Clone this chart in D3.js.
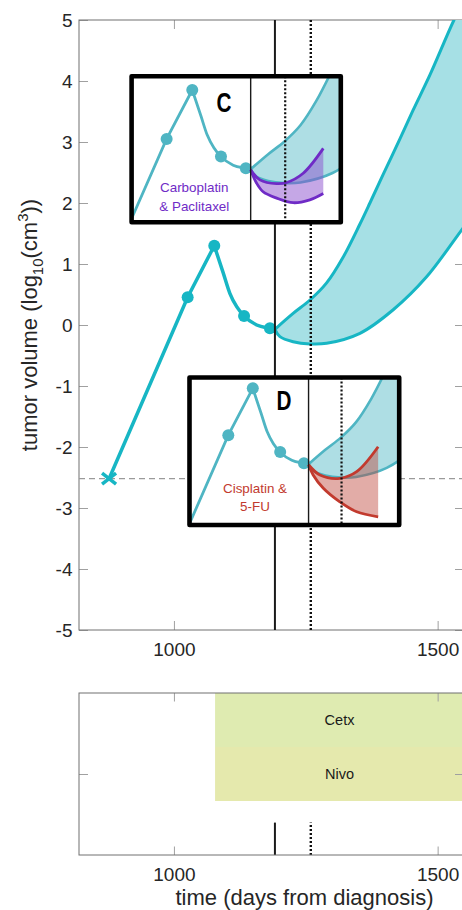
<!DOCTYPE html>
<html><head><meta charset="utf-8">
<script src="https://cdn.jsdelivr.net/npm/d3@7"></script>
<style>
body{margin:0;background:#fff;}
svg{display:block;font-family:"Liberation Sans",Arial,Helvetica,sans-serif;}
</style></head><body>
<svg id="chart" width="462" height="910"></svg>
<script>
// ---------------- data ----------------
const xTicks = [1000, 1500];
const yTicks = [-5, -4, -3, -2, -1, 0, 1, 2, 3, 4, 5];

const detectDay = 877, detectVal = -2.52;          // detection (x marker) & dashed threshold
const growthDays = [877, 1026, 1076.5];
const growthVals = [-2.52, 0.454, 1.30];
const decayDays = [1076.5, 1093.6, 1106, 1119, 1133, 1157, 1182, 1191.5];
const decayVals = [1.30, 0.85, 0.52, 0.30, 0.148, 0.0, -0.054, -0.07];
const markerDays = [1026, 1076.5, 1133, 1182];
const markerVals = [0.454, 1.30, 0.148, -0.054];

const upperDays = [1191.5, 1226, 1258, 1289.5, 1321, 1352.7, 1371.6, 1396.3, 1428.5, 1453.7, 1485.4, 1531, 1552];
const upperVals = [-0.07, 0.19, 0.41, 0.69, 1.115, 1.656, 2.0, 2.46, 3.05, 3.525, 4.10, 5.0, 5.35];
const lowerDays = [1191.5, 1201, 1226, 1258, 1289.5, 1352.7, 1415.8, 1479.1, 1542.3, 1552];
const lowerVals = [-0.07, -0.19, -0.274, -0.311, -0.30, -0.136, 0.25, 0.79, 1.52, 1.63];

const carboUpDays = [1191.5, 1209.8, 1242.7, 1262.4, 1295, 1334.5];
const carboUpVals = [-0.08, -0.255, -0.32, -0.30, -0.14, 0.29];
const carboLoDays = [1191.5, 1203, 1216, 1242.7, 1275.4, 1308, 1334.5];
const carboLoVals = [-0.08, -0.31, -0.46, -0.57, -0.65, -0.60, -0.49];

const cisUpDays = [1191.5, 1215, 1256, 1290.7, 1335];
const cisUpVals = [-0.08, -0.265, -0.325, -0.205, 0.245];
const cisLoDays = [1191.5, 1201, 1222, 1256, 1290.7, 1335];
const cisLoVals = [-0.08, -0.265, -0.505, -0.75, -0.93, -1.02];

const solidDay = 1191.5, dottedDay = 1259.5;
const therapies = ["Cetx", "Nivo"];
const therapyStart = [1078, 1078];
const therapyEnd = [1550, 1550];

// ---------------- layout ----------------
const svg = d3.select("#chart");
const M = {l: 79, r: 464, t: 20, b: 630};
const B = {t: 693, b: 855};
const x = d3.scaleLinear().domain([820, 1550]).range([M.l, M.r]);
const y = d3.scaleLinear().domain([-5, 5]).range([M.b, M.t]);
const fmt = d => String(d);

const TEAL = "#17b6c4", TEAL_FILL = "#a6e0e5";
const TEAL2 = "#4fb5c3", TEAL2_FILL = "rgba(120,200,210,0.6)";
const PURPLE = "#6f2bc6", PURPLE_FILL = "rgba(140,80,205,0.5)";
const RED = "#c23a2e", RED_FILL = "rgba(190,70,60,0.45)";
const AX = "#707070", TK = "#a0a0a0", TXT = "#262626";

const zip = (a, b) => a.map((d, i) => [d, b[i]]);
const growth = zip(growthDays, growthVals);
const decay = zip(decayDays, decayVals);
const markers = zip(markerDays, markerVals);
const upper = zip(upperDays, upperVals);
const lower = zip(lowerDays, lowerVals);
const carboUp = zip(carboUpDays, carboUpVals), carboLo = zip(carboLoDays, carboLoVals);
const cisUp = zip(cisUpDays, cisUpVals), cisLo = zip(cisLoDays, cisLoVals);

const defs = svg.append("defs");
defs.append("clipPath").attr("id", "mainclip").append("rect")
  .attr("x", M.l).attr("y", M.t).attr("width", M.r - M.l).attr("height", M.b - M.t);
defs.append("clipPath").attr("id", "botclip").append("rect")
  .attr("x", M.l).attr("y", B.t).attr("width", M.r - M.l).attr("height", B.b - B.t);

function lineGen(xs, ys, curve) {
  return d3.line().x(d => xs(d[0])).y(d => ys(d[1])).curve(curve || d3.curveCatmullRom.alpha(0.5));
}
function bandPath(xs, ys, up, lo) {
  const lg = lineGen(xs, ys);
  const a = lg(up);
  const b = lg(lo.slice().reverse());
  return a + "L" + b.slice(1) + "Z";
}

// ---------------- main axes ----------------
const main = svg.append("g");
main.append("g").attr("transform", `translate(${M.l},0)`)
  .call(d3.axisLeft(y).tickValues(yTicks).tickSize(-9).tickSizeOuter(0).tickPadding(6.5).tickFormat(fmt));
main.append("g").attr("transform", `translate(${M.r},0)`)
  .call(d3.axisRight(y).tickValues(yTicks).tickSize(-9).tickSizeOuter(0).tickFormat(""));
main.append("g").attr("transform", `translate(0,${M.b})`)
  .call(d3.axisBottom(x).tickValues(xTicks).tickSize(-9).tickSizeOuter(0).tickPadding(13).tickFormat(fmt));
main.append("g").attr("transform", `translate(0,${M.t})`)
  .call(d3.axisTop(x).tickValues(xTicks).tickSize(-9).tickSizeOuter(0).tickFormat(""));
main.selectAll(".domain").remove();
main.selectAll(".tick line").attr("stroke", TK).attr("stroke-width", 1);
main.selectAll(".tick text").attr("fill", TXT).style("font-size", "19px").style("font-family", "Liberation Sans, Arial, sans-serif");
main.append("rect").attr("x", M.l).attr("y", M.t).attr("width", M.r - M.l).attr("height", M.b - M.t)
  .attr("fill", "none").attr("stroke", AX).attr("stroke-width", 1);

// y label
const yl = svg.append("text").attr("transform", `translate(37,${(M.t + M.b) / 2}) rotate(-90)`)
  .attr("text-anchor", "middle").attr("fill", TXT).style("font-size", "22px");
yl.append("tspan").text("tumor volume (log");
yl.append("tspan").text("10").style("font-size", "15px").attr("dy", "6");
yl.append("tspan").text("(cm").attr("dy", "-6");
yl.append("tspan").text("3").style("font-size", "15px").attr("dy", "-9");
yl.append("tspan").text("))").attr("dy", "9");

// ---------------- main plot content ----------------
const pc = svg.append("g").attr("clip-path", "url(#mainclip)");
pc.append("line").attr("x1", M.l).attr("x2", M.r).attr("y1", y(detectVal)).attr("y2", y(detectVal))
  .attr("stroke", "#9a9a9a").attr("stroke-width", 1.3).attr("stroke-dasharray", "6,4");
pc.append("path").attr("d", bandPath(x, y, upper, lower)).attr("fill", TEAL_FILL).attr("stroke", "none");
pc.append("path").attr("d", lineGen(x, y)(upper)).attr("fill", "none").attr("stroke", TEAL).attr("stroke-width", 3);
pc.append("path").attr("d", lineGen(x, y)(lower)).attr("fill", "none").attr("stroke", TEAL).attr("stroke-width", 3);
pc.append("path").attr("d", lineGen(x, y, d3.curveLinear)(growth)).attr("fill", "none").attr("stroke", TEAL).attr("stroke-width", 3.5);
pc.append("path").attr("d", lineGen(x, y, d3.curveMonotoneX)(decay)).attr("fill", "none").attr("stroke", TEAL).attr("stroke-width", 3.5);
pc.selectAll("circle.m").data(markers).join("circle").attr("class", "m")
  .attr("cx", d => x(d[0])).attr("cy", d => y(d[1])).attr("r", 6).attr("fill", TEAL);
{
  const cx = x(detectDay), cy = y(detectVal), p = d3.path();
  p.moveTo(cx - 7, cy - 5.5); p.lineTo(cx + 7, cy + 5.5);
  p.moveTo(cx - 7, cy + 5.5); p.lineTo(cx + 7, cy - 5.5);
  pc.append("path").attr("d", p.toString()).attr("stroke", TEAL).attr("stroke-width", 3.5).attr("fill", "none");
}
pc.append("line").attr("x1", x(solidDay)).attr("x2", x(solidDay)).attr("y1", M.t).attr("y2", M.b)
  .attr("stroke", "#1a1a1a").attr("stroke-width", 2);
pc.append("line").attr("x1", x(dottedDay)).attr("x2", x(dottedDay)).attr("y1", M.t).attr("y2", M.b)
  .attr("stroke", "#111").attr("stroke-width", 2.4).attr("stroke-dasharray", "2,2");

// ---------------- insets ----------------
function inset(id, box, dom, vdom, up, lo, col, fill, label, labelPos, lines, linesPos) {
  const xs = d3.scaleLinear().domain(dom).range([box.x0, box.x1]);
  const ys = d3.scaleLinear().domain(vdom).range([box.y1, box.y0]);
  defs.append("clipPath").attr("id", id).append("rect")
    .attr("x", box.x0).attr("y", box.y0).attr("width", box.x1 - box.x0).attr("height", box.y1 - box.y0);
  const g = svg.append("g");
  g.append("rect").attr("x", box.x0).attr("y", box.y0).attr("width", box.x1 - box.x0).attr("height", box.y1 - box.y0).attr("fill", "#fff");
  const c = g.append("g").attr("clip-path", `url(#${id})`);
  c.append("path").attr("d", bandPath(xs, ys, upper, lower)).attr("fill", TEAL2_FILL);
  c.append("path").attr("d", lineGen(xs, ys)(upper)).attr("fill", "none").attr("stroke", TEAL2).attr("stroke-width", 2.6);
  c.append("path").attr("d", lineGen(xs, ys)(lower)).attr("fill", "none").attr("stroke", TEAL2).attr("stroke-width", 2.6);
  c.append("path").attr("d", lineGen(xs, ys, d3.curveLinear)(growth)).attr("fill", "none").attr("stroke", TEAL2).attr("stroke-width", 2.8);
  c.append("path").attr("d", lineGen(xs, ys, d3.curveMonotoneX)(decay)).attr("fill", "none").attr("stroke", TEAL2).attr("stroke-width", 2.8);
  c.selectAll("circle").data(markers).join("circle")
    .attr("cx", d => xs(d[0])).attr("cy", d => ys(d[1])).attr("r", 6).attr("fill", TEAL2);
  c.append("path").attr("d", bandPath(xs, ys, up, lo)).attr("fill", fill);
  c.append("path").attr("d", lineGen(xs, ys)(up)).attr("fill", "none").attr("stroke", col).attr("stroke-width", 2.8);
  c.append("path").attr("d", lineGen(xs, ys)(lo)).attr("fill", "none").attr("stroke", col).attr("stroke-width", 2.8);
  c.append("line").attr("x1", xs(solidDay)).attr("x2", xs(solidDay)).attr("y1", box.y0).attr("y2", box.y1)
    .attr("stroke", "#1a1a1a").attr("stroke-width", 1.4);
  c.append("line").attr("x1", xs(dottedDay)).attr("x2", xs(dottedDay)).attr("y1", box.y0).attr("y2", box.y1)
    .attr("stroke", "#111").attr("stroke-width", 2.2).attr("stroke-dasharray", "2,2");
  g.append("text").attr("transform", `translate(${labelPos[0]},${labelPos[1]}) scale(0.74,1)`)
    .attr("text-anchor", "middle")
    .style("font-family", "'Liberation Sans',Arial,sans-serif")
    .style("font-weight", "bold").style("font-size", "28px").attr("fill", "#000").text(label);
  lines.forEach((t, i) => {
    g.append("text").attr("x", linesPos[0]).attr("y", linesPos[1] + i * 18.8).attr("text-anchor", "middle")
      .style("font-size", "13.4px").attr("fill", col).text(t);
  });
  g.append("rect").attr("x", box.x0).attr("y", box.y0).attr("width", box.x1 - box.x0).attr("height", box.y1 - box.y0)
    .attr("fill", "none").attr("stroke", "#000").attr("stroke-width", 4.6).attr("stroke-linejoin", "round");
}
inset("clipC", {x0: 131.6, x1: 340.8, y0: 76.2, y1: 222.2}, [957, 1369], [-0.987, 1.539],
  carboUp, carboLo, PURPLE, PURPLE_FILL, "C", [224, 111.7], ["Carboplatin", "& Paclitaxel"], [194.3, 192.3]);
inset("clipD", {x0: 189.5, x1: 399.2, y0: 377.5, y1: 525}, [946, 1378.4], [-1.168, 1.495],
  cisUp, cisLo, RED, RED_FILL, "D", [284, 410], ["Cisplatin &", "5-FU"], [255, 492.5]);

// ---------------- bottom therapy panel ----------------
const yb = d3.scaleLinear().domain([0, 3]).range([B.b, B.t]);
const rowTop = {Cetx: 3, Nivo: 2};
const barColor = {Cetx: "#dfebb1", Nivo: "#e5e9ad"};
const bp = svg.append("g").attr("clip-path", "url(#botclip)");
therapies.forEach((t, i) => {
  bp.append("rect").attr("x", x(therapyStart[i])).attr("width", x(therapyEnd[i]) - x(therapyStart[i]))
    .attr("y", yb(rowTop[t])).attr("height", yb(rowTop[t] - 1) - yb(rowTop[t])).attr("fill", barColor[t]);
  bp.append("text").attr("x", (x(therapyStart[i]) + x(therapyEnd[i])) / 2).attr("y", yb(rowTop[t] - 0.5) + 5)
    .attr("text-anchor", "middle").style("font-size", "14.5px").attr("fill", "#1a1a1a").text(t);
});
bp.append("line").attr("x1", x(solidDay)).attr("x2", x(solidDay)).attr("y1", yb(0)).attr("y2", yb(0.6))
  .attr("stroke", "#1a1a1a").attr("stroke-width", 2);
bp.append("line").attr("x1", x(dottedDay)).attr("x2", x(dottedDay)).attr("y1", yb(0)).attr("y2", yb(0.6))
  .attr("stroke", "#111").attr("stroke-width", 2.4).attr("stroke-dasharray", "2,2");

const bot = svg.append("g");
bot.append("g").attr("transform", `translate(0,${B.b})`)
  .call(d3.axisBottom(x).tickValues(xTicks).tickSize(-8.5).tickSizeOuter(0).tickPadding(13).tickFormat(fmt));
bot.append("g").attr("transform", `translate(0,${B.t})`)
  .call(d3.axisTop(x).tickValues(xTicks).tickSize(-8.5).tickSizeOuter(0).tickFormat(""));
bot.append("g").attr("transform", `translate(${M.l},0)`)
  .call(d3.axisLeft(yb).tickValues([1.5]).tickSize(-9).tickSizeOuter(0).tickFormat(""));
bot.append("g").attr("transform", `translate(${M.r},0)`)
  .call(d3.axisRight(yb).tickValues([1.5]).tickSize(-9).tickSizeOuter(0).tickFormat(""));
bot.selectAll(".domain").remove();
bot.selectAll(".tick line").attr("stroke", TK).attr("stroke-width", 1);
bot.selectAll(".tick text").attr("fill", TXT).style("font-size", "19px").style("font-family", "Liberation Sans, Arial, sans-serif");
bot.append("rect").attr("x", M.l).attr("y", B.t).attr("width", M.r - M.l).attr("height", B.b - B.t)
  .attr("fill", "none").attr("stroke", AX).attr("stroke-width", 1);

svg.append("text").attr("x", 304.5).attr("y", 905).attr("text-anchor", "middle")
  .style("font-size", "22px").attr("fill", TXT).text("time (days from diagnosis)");
</script>
</body></html>
